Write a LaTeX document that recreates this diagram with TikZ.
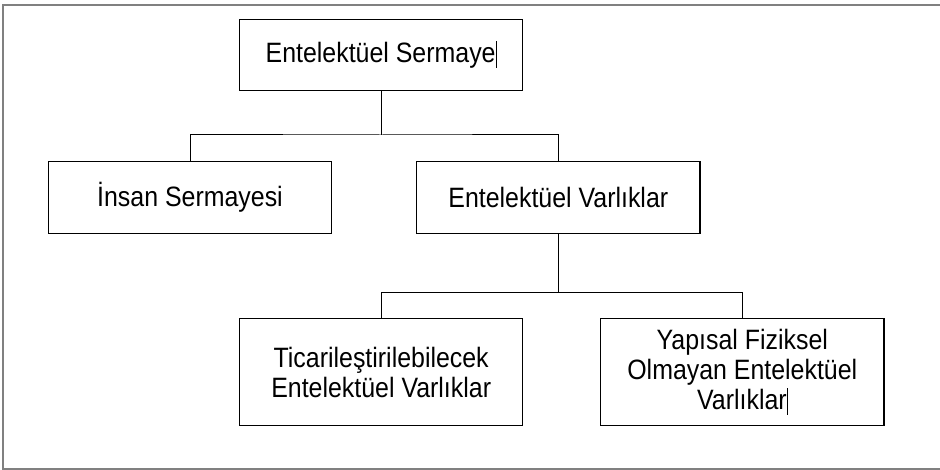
\documentclass[tikz,border=0pt]{standalone}
\usepackage{fontspec}
\setmainfont{Liberation Sans}
\newfontfamily\boxfont[FakeStretch=0.89]{Liberation Sans}
\begin{document}
\begin{tikzpicture}[x=1pt,y=-1pt,
  box/.style={draw=black, line width=1.1pt, minimum width=283.4pt,
    align=center, inner sep=0pt, font=\boxfont\fontsize{28}{30}\selectfont},
  tallbox/.style={box, minimum height=106.7pt},
  link/.style={draw=black, line width=1pt},
  frameline/.style={draw=black!50, line width=1.8pt}]
\useasboundingbox (0,0) rectangle (940,470);
% open frame around the chart
\draw[frameline] (940,4.7) -- (3,4.7) -- (3,469) -- (940,469);
% boxes
\node[box, minimum height=71pt] (top) at (381,54.8)
  {Entelektüel Sermaye\rule[-0.18em]{0.7pt}{0.95em}};
\node[box, minimum height=71.6pt] (human) at (190,197.5) {İnsan Sermayesi};
\node[box, minimum height=71.6pt] (assets) at (558.3,197.5) {Entelektüel Varlıklar};
\node[tallbox] (trade) at (381.2,372.3)
  {Ticarileştirilebilecek\\Entelektüel Varlıklar};
\node[tallbox] (struct) at (742.3,372.3)
  {Yapısal Fiziksel\\Olmayan Entelektüel\\Varlıklar\rule[-0.18em]{0.7pt}{0.95em}};
% tree connectors
\coordinate (b1) at (381,135);
\coordinate (b2) at (558.3,292.3);
\draw[link] (top.south) -- (b1);
\draw[link] (human.north) |- (b1) -| (assets.north);
\draw[link] (assets.south) -- (b2);
\draw[link] (trade.north) |- (b2) -| (struct.north);
\end{tikzpicture}
\end{document}
